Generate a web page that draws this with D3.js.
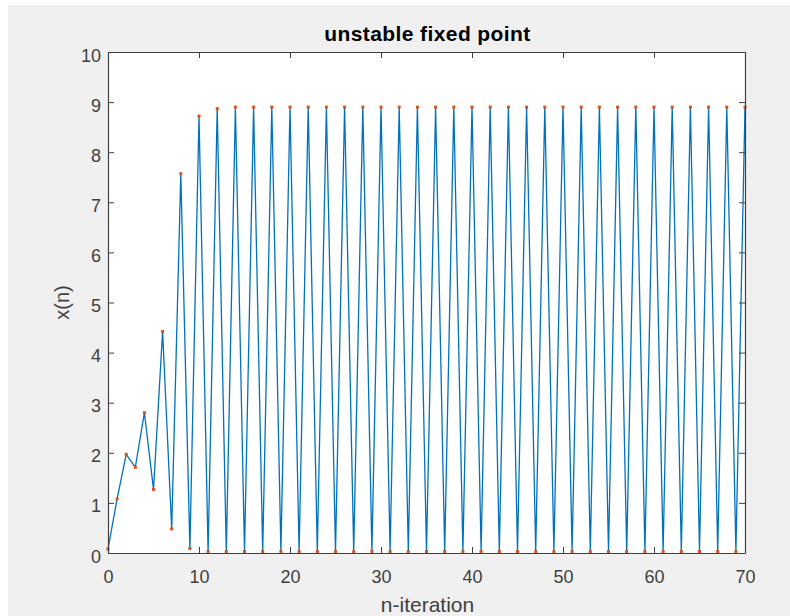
<!DOCTYPE html>
<html><head><meta charset="utf-8">
<script src="https://cdn.jsdelivr.net/npm/d3@7/dist/d3.min.js"></script>
<style>
html,body{margin:0;padding:0;background:#f0f0f0;}
svg{display:block;}
text{font-family:"Liberation Sans",Arial,Helvetica,sans-serif;}
</style></head>
<body>
<script>
// Data: x(n) for n = 0..70
const earlyValues = [0.08, 1.08, 1.97, 1.71, 2.80, 1.27, 4.42, 0.48, 7.57, 0.09, 8.72, 0.03, 8.87, 0.03];
const lateValues = [
  8.90,0.03,8.90,0.03,8.90,0.03,8.90,0.03,8.90,0.03,
  8.90,0.03,8.90,0.03,8.90,0.03,8.90,0.03,8.90,0.03,
  8.90,0.03,8.90,0.03,8.90,0.03,8.90,0.03,8.90,0.03,
  8.90,0.03,8.90,0.03,8.90,0.03,8.90,0.03,8.90,0.03,
  8.90,0.03,8.90,0.03,8.90,0.03,8.90,0.03,8.90,0.03,
  8.90,0.03,8.90,0.03,8.90,0.03,8.90
];
const values = earlyValues.concat(lateValues);
const xTicks = [0,10,20,30,40,50,60,70];
const yTicks = [0,1,2,3,4,5,6,7,8,9,10];
const titleText = "unstable fixed point";
const xLabel = "n-iteration";
const yLabel = "x(n)";

const W = 790, H = 616;
const m = {left:108, right:745, top:52, bottom:553};
const svg = d3.select("body").append("svg").attr("width",W).attr("height",H);
svg.append("rect").attr("width",W).attr("height",H).attr("fill","#f0f0f0");
svg.append("rect").attr("width",W).attr("height",5).attr("fill","#ffffff");
svg.append("rect").attr("width",8).attr("height",H).attr("fill","#ffffff");

const x = d3.scaleLinear().domain([0,70]).range([m.left,m.right]);
const y = d3.scaleLinear().domain([0,10]).range([m.bottom,m.top]);

svg.append("rect").attr("x",m.left).attr("y",m.top)
  .attr("width",m.right-m.left).attr("height",m.bottom-m.top).attr("fill","#ffffff");

const data = values.map((v,i)=>({n:i,v:v}));
svg.append("clipPath").attr("id","clip").append("rect")
  .attr("x",m.left-3).attr("y",m.top-3).attr("width",m.right-m.left+6).attr("height",m.bottom-m.top+6);

const g = svg.append("g").attr("clip-path","url(#clip)");
g.append("path").datum(data)
  .attr("d", d3.line().x(d=>x(d.n)).y(d=>y(d.v)))
  .attr("fill","none").attr("stroke","#0072BD").attr("stroke-width",1.3).attr("stroke-linejoin","round");
g.selectAll("rect.mk").data(data).enter().append("rect").attr("class","mk")
  .attr("x",d=>x(d.n)-1.5).attr("y",d=>y(d.v)-1.5).attr("width",3).attr("height",3)
  .attr("fill","#D95319");

const axisColor = "#404040";
const tickLen = 6;
const fontSize = 18;
const xa = svg.append("g").attr("transform",`translate(0,${m.bottom})`)
  .call(d3.axisBottom(x).tickValues(xTicks).tickSizeInner(-tickLen).tickSizeOuter(0));
const xt = svg.append("g").attr("transform",`translate(0,${m.top})`)
  .call(d3.axisTop(x).tickValues(xTicks).tickSizeInner(-tickLen).tickSizeOuter(0).tickFormat(""));
const ya = svg.append("g").attr("transform",`translate(${m.left},0)`)
  .call(d3.axisLeft(y).tickValues(yTicks).tickSizeInner(-tickLen).tickSizeOuter(0).tickPadding(7));
const yr = svg.append("g").attr("transform",`translate(${m.right},0)`)
  .call(d3.axisRight(y).tickValues(yTicks).tickSizeInner(-tickLen).tickSizeOuter(0).tickFormat(""));

[xa,xt,ya,yr].forEach(a=>{
  a.select(".domain").attr("stroke",axisColor).attr("stroke-width",1.2);
  a.selectAll(".tick line").attr("stroke",axisColor).attr("stroke-width",1);
  a.selectAll(".tick text").attr("fill","#404040").attr("font-size",fontSize)
    .attr("font-family","'Liberation Sans',Arial,sans-serif");
});
xa.selectAll(".tick text").attr("y",30).attr("dy","0");
ya.selectAll(".tick text").attr("dy","0.5em");

svg.append("text").attr("x",(m.left+m.right)/2+1).attr("y",41)
  .attr("text-anchor","middle").attr("font-size",21).attr("font-weight","bold")
  .attr("letter-spacing","0.4px")
  .attr("fill","#000").text(titleText);
svg.append("text").attr("x",(m.left+m.right)/2+1).attr("y",612)
  .attr("text-anchor","middle").attr("font-size",21).attr("fill","#404040").text(xLabel);
svg.append("text").attr("transform",`translate(69,${(m.top+m.bottom)/2}) rotate(-90)`)
  .attr("text-anchor","middle").attr("font-size",20).attr("fill","#404040").text(yLabel);
</script>
</body></html>
